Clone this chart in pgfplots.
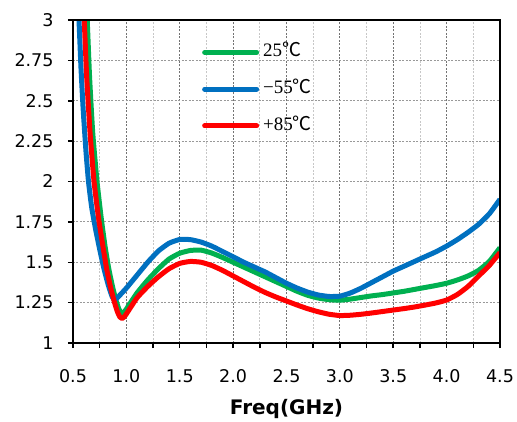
\documentclass[border=0pt]{standalone}
\usepackage{pgfplots}
\pgfplotsset{compat=1.18}
\usepackage{fontspec}
\setmainfont{DejaVu Sans}
\newfontfamily\legfont{Liberation Serif}
\newfontfamily\cjk{Noto Sans CJK SC}

\definecolor{cgreen}{RGB}{0,176,80}
\definecolor{cblue}{RGB}{0,112,192}
\definecolor{cred}{RGB}{255,0,0}

% grid under the curves, frame above them
\pgfplotsset{layers/gridbelow/.define layer set={axis background,axis grid,main,axis ticks,axis lines,axis tick labels,axis descriptions,axis foreground}{/pgfplots/layers/standard}}

\begin{document}
\begin{tikzpicture}
\begin{axis}[
    set layers=gridbelow,
    scale only axis,
    width=427pt, height=323pt,
    xmin=0.5, xmax=4.5, ymin=1, ymax=3,
    xtick={0.5,1,1.5,2,2.5,3,3.5,4,4.5},
    xticklabels={0.5,1.0,1.5,2.0,2.5,3.0,3.5,4.0,4.5},
    minor xtick={0.75,1.25,1.75,2.25,2.75,3.25,3.75,4.25},
    ytick={1,1.25,1.5,1.75,2,2.25,2.5,2.75,3},
    yticklabels={1,1.25,1.5,1.75,2,2.25,2.5,2.75,3},
    xtick pos=bottom, ytick pos=left,
    tick align=outside,
    major tick length=5pt, minor tick length=5pt,
    tick style={black, line width=1.5pt},
    axis line style={black, line width=2.5pt},
    grid=both,
    major x grid style={black!55, line width=0.8pt, dash pattern=on 2pt off 1.5pt},
    minor x grid style={black!22, line width=0.8pt, dash pattern=on 2pt off 1.5pt},
    major y grid style={black!40, line width=0.8pt, dash pattern=on 2pt off 1.5pt},
    tick label style={font=\fontsize{17.5}{20}\selectfont},
    xticklabel style={yshift=-18pt},
    yticklabel style={xshift=-11pt},
    xlabel={Freq(GHz)},
    xlabel style={font=\fontsize{20}{22}\selectfont\bfseries,
        at={(axis description cs:0.5,-0.222)}, anchor=base},
    legend style={at={(0.302,0.9235)}, anchor=north west, draw=none, fill=none,
        inner sep=0pt, row sep=21.7pt, column sep=4pt,
        font=\fontsize{19}{19}\selectfont\legfont,
        nodes={inner sep=0pt, text height=12pt, text depth=3pt, anchor=west}},
    legend cell align=left,
    legend image code/.code={\draw[#1, line width=5pt, line cap=round] (0pt,0pt) -- (52pt,0pt);},
    every axis plot/.append style={line width=5pt, line join=round, smooth, tension=0.3},
]
% 25 C
\addplot[cgreen] coordinates {
(0.62,3.1) (0.633,3.0) (0.655,2.65) (0.685,2.3) (0.725,2.0) (0.765,1.77) (0.80,1.60)
(0.835,1.46) (0.87,1.35) (0.90,1.27) (0.93,1.21) (0.955,1.182) (0.98,1.193)
(1.0,1.21) (1.1,1.31) (1.2,1.39) (1.3,1.46) (1.4,1.52) (1.5,1.556) (1.6,1.573)
(1.7,1.575) (1.8,1.557) (1.9,1.53) (2.0,1.50) (2.1,1.47) (2.2,1.44) (2.3,1.41)
(2.4,1.38) (2.5,1.35) (2.6,1.32) (2.7,1.295) (2.8,1.278) (2.9,1.268) (3.0,1.265)
(3.1,1.272) (3.2,1.282) (3.3,1.292) (3.4,1.30) (3.5,1.31) (3.6,1.32) (3.7,1.332)
(3.8,1.344) (3.9,1.356) (4.0,1.37) (4.1,1.39) (4.2,1.415) (4.3,1.45) (4.4,1.505) (4.5,1.59)
};
\addlegendentry{25{\cjk ℃}}
% -55 C
\addplot[cblue] coordinates {
(0.545,3.1) (0.556,3.0) (0.575,2.7) (0.595,2.45) (0.62,2.2) (0.645,2.0) (0.675,1.84)
(0.71,1.71) (0.75,1.58) (0.79,1.46) (0.83,1.36) (0.865,1.29) (0.89,1.265) (0.93,1.29)
(1.0,1.34) (1.1,1.42) (1.2,1.50) (1.3,1.57) (1.4,1.618) (1.5,1.641) (1.6,1.64)
(1.7,1.625) (1.8,1.60) (1.9,1.567) (2.0,1.534) (2.1,1.50) (2.2,1.47) (2.3,1.44)
(2.4,1.405) (2.5,1.37) (2.6,1.34) (2.7,1.315) (2.8,1.297) (2.9,1.288) (3.0,1.29)
(3.1,1.31) (3.2,1.34) (3.3,1.375) (3.4,1.41) (3.5,1.445) (3.6,1.475) (3.7,1.505)
(3.8,1.535) (3.9,1.565) (4.0,1.60) (4.1,1.64) (4.2,1.685) (4.3,1.735) (4.4,1.80) (4.5,1.89)
};
\addlegendentry{−55{\cjk ℃}}
% +85 C
\addplot[cred] coordinates {
(0.59,3.1) (0.605,3.0) (0.628,2.65) (0.66,2.3) (0.697,2.0) (0.74,1.77) (0.78,1.60)
(0.815,1.46) (0.85,1.35) (0.885,1.26) (0.915,1.195) (0.94,1.16) (0.96,1.152) (0.98,1.162)
(1.0,1.18) (1.1,1.28) (1.2,1.35) (1.3,1.41) (1.4,1.46) (1.5,1.493) (1.6,1.505)
(1.7,1.50) (1.8,1.48) (1.9,1.45) (2.0,1.415) (2.1,1.38) (2.2,1.345) (2.3,1.313)
(2.4,1.285) (2.5,1.26) (2.6,1.235) (2.7,1.212) (2.8,1.193) (2.9,1.178) (3.0,1.17)
(3.1,1.172) (3.2,1.178) (3.3,1.186) (3.4,1.195) (3.5,1.204) (3.6,1.213) (3.7,1.223)
(3.8,1.235) (3.9,1.248) (4.0,1.266) (4.1,1.30) (4.2,1.35) (4.3,1.415) (4.4,1.48) (4.5,1.56)
};
\addlegendentry{+85{\cjk ℃}}
\end{axis}
\pgfresetboundingbox
\path (current axis.south west) ++(-73pt,-78pt) rectangle ++(517pt,421pt);
\end{tikzpicture}
\end{document}
